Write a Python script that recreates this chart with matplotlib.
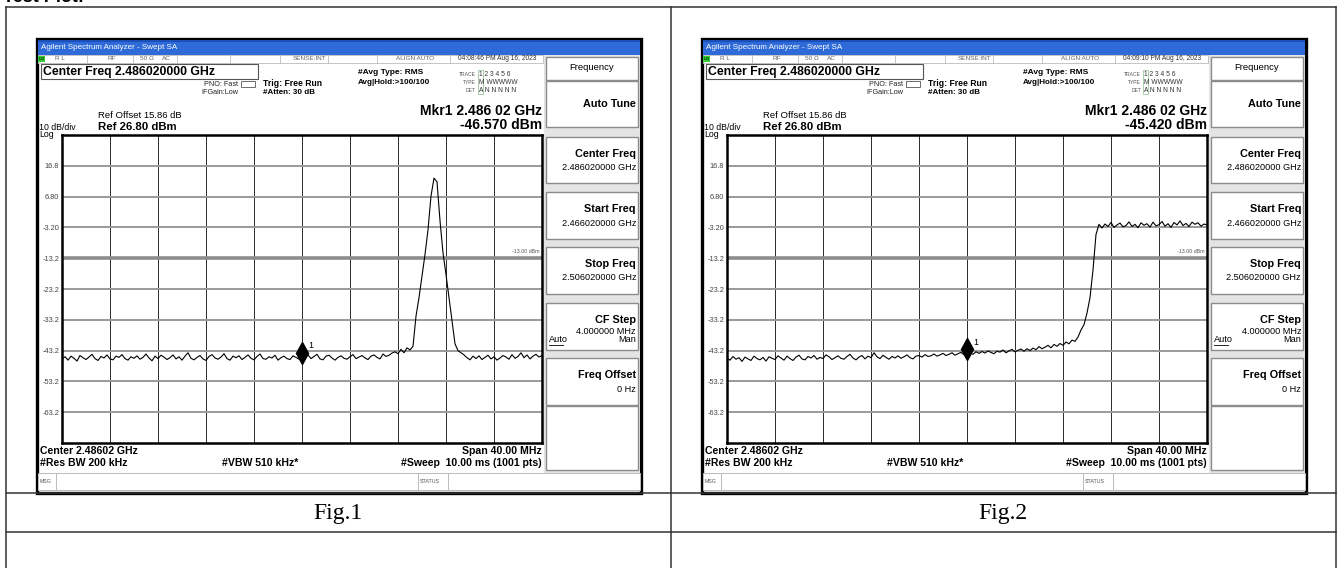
import numpy as np
import matplotlib
matplotlib.use("Agg")
import matplotlib.pyplot as plt
from matplotlib.patches import Rectangle
from matplotlib.transforms import offset_copy

plt.rcParams['font.family'] = ['Liberation Sans', 'DejaVu Sans']

span_mhz = 40.0
ref_level = 26.8
bottom_level = -73.2
grat_levels = [16.8, 6.8, -3.2, -13.2, -23.2, -33.2, -43.2, -53.2, -63.2]
grat_labels = ['16.8', '6.80', '-3.20', '-13.2', '-23.2', '-33.2', '-43.2', '-53.2', '-63.2']
display_line = -13.0

# trace levels in dBm, sweep from start to stop freq (every 0.25 MHz)
fig1_trace = [
    -45.9, -45.2, -46.3, -45.0, -45.7, -46.6, -44.8, -45.5, -46.1, -45.3,
    -44.4, -45.8, -46.4, -45.1, -45.6, -44.6, -45.9, -46.2, -45.0, -45.4,
    -44.5, -45.8, -46.3, -45.2, -45.7, -44.9, -46.0, -45.4, -44.3, -45.6,
    -46.5, -45.0, -45.8, -44.7, -45.3, -46.1, -45.5, -44.6, -45.9, -45.2,
    -46.3, -45.0, -43.9, -45.7, -46.2, -45.4, -44.8, -45.9, -46.4, -45.1,
    -44.5, -45.6, -46.0, -45.3, -44.2, -45.8, -46.3, -45.0, -45.5, -44.9,
    -46.1, -45.4, -44.6, -45.7, -46.2, -45.1, -44.3, -45.8, -46.0, -45.2,
    -45.6, -44.7, -46.3, -45.5, -45.0, -45.8, -46.1, -44.9, -45.4, -46.0,
    -46.57, -45.3, -44.6, -45.8, -45.1, -44.4, -45.9, -46.2, -45.0, -44.7,
    -45.6, -46.3, -45.4, -44.9, -45.7, -46.0, -45.2, -44.5, -45.8, -45.3,
    -44.8, -45.6, -46.1, -45.0, -44.6, -45.4, -45.9, -44.3, -45.1, -44.7,
    -44.0, -43.6, -44.2, -42.8, -43.9, -42.3, -43.0, -41.8, -32.0, -26.0,
    -19.0, -12.0, -4.0, 7.0, 12.8, 11.6, -1.0, -11.5, -18.5, -26.0,
    -33.5, -41.0, -43.2, -43.9, -44.6, -45.5, -46.2, -45.0, -45.8, -44.9,
    -46.1, -45.4, -44.7, -45.9, -45.2, -46.3, -45.6, -44.8, -45.3, -46.0,
    -44.5, -45.7, -45.1, -43.9, -45.5, -44.6, -45.9, -45.0, -44.4, -45.3,
    -44.8,
]
fig2_trace = [
    -45.6, -46.3, -45.1, -46.0, -45.5, -46.7, -45.3, -45.9, -46.4, -45.0,
    -45.8, -46.2, -45.4, -46.6, -45.2, -45.7, -46.1, -44.9, -45.6, -46.3,
    -45.0, -45.8, -46.4, -45.3, -44.7, -45.9, -46.2, -45.1, -45.6, -44.8,
    -46.0, -45.4, -45.8, -44.6, -45.2, -46.1, -45.5, -44.9, -45.7, -46.0,
    -45.1, -44.4, -45.6, -46.2, -45.3, -44.8, -45.9, -45.0, -45.5, -43.9,
    -45.2, -45.8, -44.7, -45.4, -46.0, -45.1, -45.6, -44.9, -45.7, -45.2,
    -44.6, -45.5, -45.9, -45.0, -44.8, -45.3, -44.5, -45.1, -44.9, -44.3,
    -45.0, -44.6, -44.1, -44.8, -44.4, -43.9, -44.7, -44.2, -43.8, -44.5,
    -45.42, -43.9, -44.4, -43.6, -44.1, -43.5, -44.0, -43.3, -43.8, -44.2,
    -43.4, -43.7, -43.0, -43.9, -43.3, -42.8, -43.6, -43.1, -42.7, -43.4,
    -42.6, -43.2, -42.4, -42.9, -41.9, -42.6, -42.1, -41.5, -42.3, -41.2,
    -41.8, -40.9, -41.5, -40.4, -41.0, -39.8, -40.2, -38.8, -36.5, -34.8,
    -31.0, -26.0, -17.0, -5.5, -2.2, -3.4, -2.1, -2.9, -1.6, -3.2,
    -2.4, -1.8, -3.0, -2.6, -1.4, -2.9, -2.2, -3.3, -1.7, -2.5,
    -2.0, -3.1, -1.5, -2.7, -2.3, -1.3, -2.8, -2.0, -3.2, -1.6,
    -2.4, -1.1, -2.6, -1.9, -2.9, -1.5, -2.2, -1.7, -2.8, -2.1,
    -2.4,
]
marker_levels = [-46.570, -45.420]
marker_texts = ['-46.570 dBm', '-45.420 dBm']
timestamps = ['04:08:46 PM Aug 16, 2023', '04:09:10 PM Aug 16, 2023']
captions = ['Fig.1', 'Fig.2']
softkeys = [('Center Freq', '2.486020000 GHz'),
            ('Start Freq', '2.466020000 GHz'),
            ('Stop Freq', '2.506020000 GHz')]

W, H = 1338, 568
fig = plt.figure(figsize=(W / 100, H / 100), dpi=100)
bg = fig.add_axes([0, 0, 1, 1])
bg.set_xlim(0, W)
bg.set_ylim(H, 0)
bg.axis('off')


def rect(x0, y0, x1, y1, fc='none', ec='none', lw=0.8, z=1):
    bg.add_patch(Rectangle((x0, y0), x1 - x0, y1 - y0, facecolor=fc,
                           edgecolor=ec, linewidth=lw, zorder=z))


def txt(x, y, s, size, ha='left', weight='normal', color='black', **kw):
    bg.text(x, y, s, fontsize=size, ha=ha, va='center', fontweight=weight,
            color=color, zorder=5, **kw)


# document table
tc = '#333333'
bg.plot([6, 1336], [7, 7], color=tc, lw=1.1)
for xv in (6, 671, 1336):
    bg.plot([xv, xv], [7, H], color=tc, lw=1.1)
for yv in (493, 532):
    bg.plot([6, 1336], [yv, yv], color=tc, lw=1.1)
# heading sits mostly above the picture, only its foot shows
bg.text(3, 2.5, 'Test Plot:', fontsize=13, fontweight='bold', va='baseline')


def draw_screen(k, ox, trace):
    X = lambda v: v + ox
    rect(X(37), 39, X(641), 493, fc='white', ec='black', lw=2.4, z=1)
    # title bar
    rect(X(38), 40, X(640), 55, fc='#2f6bd8', z=2)
    rect(X(38), 40, X(640), 42, fc='#1c4fb8', z=2)
    txt(X(41), 47.5, 'Agilent Spectrum Analyzer - Swept SA', 5.8, color='white')
    # status row
    rect(X(38), 55, X(543), 63, fc='white', ec='#bbbbbb', lw=0.6, z=2)
    for sx in (87, 133, 177, 230, 280, 328, 377, 450):
        bg.plot([X(sx), X(sx)], [55, 63], color='#bbbbbb', lw=0.6, zorder=3)
    rect(X(38), 56, X(45), 62, fc='#33cc33', z=3)
    txt(X(39), 59, 'LXI', 3, color='black')
    sgray = '#666666'
    txt(X(55), 59, 'R L', 4.6, color=sgray)
    txt(X(112), 59, 'RF', 4.6, color=sgray, ha='center')
    txt(X(140), 59, '50 Ω', 4.6, color=sgray)
    txt(X(162), 59, 'AC', 4.6, color=sgray)
    txt(X(326), 59, 'SENSE:INT', 4.6, color=sgray, ha='right')
    txt(X(415), 59, 'ALIGN AUTO', 4.6, color=sgray, ha='center')
    txt(X(497), 59, timestamps[k], 4.8, color='#333333', ha='center')
    # header
    rect(X(41), 64, X(258), 79, fc='white', ec='#555555', lw=0.8, z=2)
    txt(X(43), 71.5, 'Center Freq 2.486020000 GHz', 8.8, weight='bold')
    txt(X(238), 84, 'PNO: Fast', 5.2, ha='right', color='#222222')
    rect(X(241), 81, X(255), 87, ec='#555555', lw=0.6, z=3)
    txt(X(238), 92, 'IFGain:Low', 5.2, ha='right', color='#222222')
    txt(X(263), 83, 'Trig: Free Run', 6.2, weight='bold')
    txt(X(263), 92, '#Atten: 30 dB', 5.8, weight='bold')
    txt(X(358), 73, '#Avg Type: RMS', 6.0, weight='bold')
    txt(X(358), 82, 'Avg|Hold:>100/100', 5.8, weight='bold')
    rect(X(477.5), 69.5, X(483), 94, ec='#88bb88', lw=0.5, z=3)
    for yy, lab, row in ((74, 'TRACE', '1 2 3 4 5 6'), (82, 'TYPE', 'M WWWWW'),
                         (90, 'DET', 'A N N N N N')):
        txt(X(476), yy, lab, 3.6, ha='right', color='#555555')
        txt(X(479), yy, row, 4.8, color='#333333')
    txt(X(542), 111, 'Mkr1 2.486 02 GHz', 10, ha='right', weight='bold')
    txt(X(542), 125, marker_texts[k], 10, ha='right', weight='bold')
    txt(X(98), 116, 'Ref Offset 15.86 dB', 6.8)
    txt(X(98), 127, 'Ref 26.80 dBm', 8.2, weight='bold')
    txt(X(39), 128, '10 dB/div', 6.3)
    txt(X(39), 134.5, 'Log', 6.3)
    # soft key panel
    rect(X(544), 55, X(640), 473, fc='#e4e4e4', z=2)
    boxes = [(57, 80), (81, 127), (137, 183), (192, 239), (247, 294),
             (303, 350), (358, 405), (406, 470)]
    for y0, y1 in boxes:
        rect(X(546), y0, X(638), y1, fc='white', ec='#8c8c8c', lw=1.0, z=3)
    txt(X(592), 68, 'Frequency', 6.8, ha='center')
    txt(X(636), 104, 'Auto Tune', 7.8, ha='right', weight='bold')
    for (lab, val), (y0, y1) in zip(softkeys, boxes[2:5]):
        txt(X(636), y0 + 17, lab, 7.8, ha='right', weight='bold')
        txt(X(636), y0 + 31, val, 6.6, ha='right')
    txt(X(636), 320, 'CF Step', 7.8, ha='right', weight='bold')
    txt(X(636), 331, '4.000000 MHz', 6.6, ha='right')
    txt(X(549), 340, 'Auto', 6.6)
    bg.plot([X(549), X(563)], [344.5, 344.5], color='black', lw=0.6, zorder=5)
    txt(X(636), 340, 'Man', 6.6, ha='right')
    txt(X(636), 375, 'Freq Offset', 7.8, ha='right', weight='bold')
    txt(X(636), 389, '0 Hz', 6.6, ha='right')
    # footer
    txt(X(40), 451, 'Center 2.48602 GHz', 7.6, weight='bold')
    txt(X(40), 463, '#Res BW 200 kHz', 7.6, weight='bold')
    txt(X(222), 463, '#VBW 510 kHz*', 7.6, weight='bold')
    txt(X(542), 451, 'Span 40.00 MHz', 7.6, ha='right', weight='bold')
    txt(X(542), 463, '#Sweep  10.00 ms (1001 pts)', 7.6, ha='right', weight='bold')
    rect(X(38), 473, X(640), 490, fc='white', ec='#bbbbbb', lw=0.7, z=3)
    for sx in (56, 418, 448):
        bg.plot([X(sx), X(sx)], [473, 490], color='#bbbbbb', lw=0.7, zorder=4)
    txt(X(40), 481.5, 'MSG', 3.8, color='#555555')
    txt(X(420), 481.5, 'STATUS', 3.8, color='#555555')

    # graticule
    ax = fig.add_axes([X(62) / W, 1 - 443 / H, 480 / W, 308 / H])
    ax.set_zorder(4)
    freq = np.linspace(-span_mhz / 2, span_mhz / 2, len(trace))
    ax.set_xlim(-span_mhz / 2, span_mhz / 2)
    ax.set_ylim(bottom_level, ref_level)
    ax.set_xticks(np.arange(-16, 17, 4))
    ax.set_xticklabels([])
    ax.set_yticks(grat_levels)
    ax.set_yticklabels(grat_labels, fontsize=5.3, color='#444444')
    ax.tick_params(length=0, pad=2)
    ax.xaxis.grid(True, color='#2a2a2a', lw=0.7)
    ax.yaxis.grid(True, color='#9a9a9a', lw=1.4)
    ax.set_axisbelow(True)
    for sp in ax.spines.values():
        sp.set_linewidth(1.8)
        sp.set_color('black')
    ax.axhline(display_line, color='#8c8c8c', lw=2.6, zorder=1)
    ax.text(19.8, display_line + 1.2, '-13.00 dBm', fontsize=3.8,
            color='#555555', ha='right', va='bottom')
    ax.plot(freq, trace, color='black', lw=0.8, zorder=3)
    mk = marker_levels[k]
    ax.plot([0.0], [mk], marker='d', ms=11, color='black', zorder=4,
            transform=offset_copy(ax.transData, fig=fig, y=8, units='dots'))
    ax.annotate('1', (0.0, mk), xytext=(6, 15), textcoords='offset pixels',
                fontsize=6.5, va='center')
    # caption
    bg.text(X(338), 513, captions[k], fontsize=17, ha='center', va='center',
            family=['Liberation Serif', 'DejaVu Serif'])


draw_screen(0, 0, fig1_trace)
draw_screen(1, 665, fig2_trace)

fig.savefig('out.png', dpi=100)
